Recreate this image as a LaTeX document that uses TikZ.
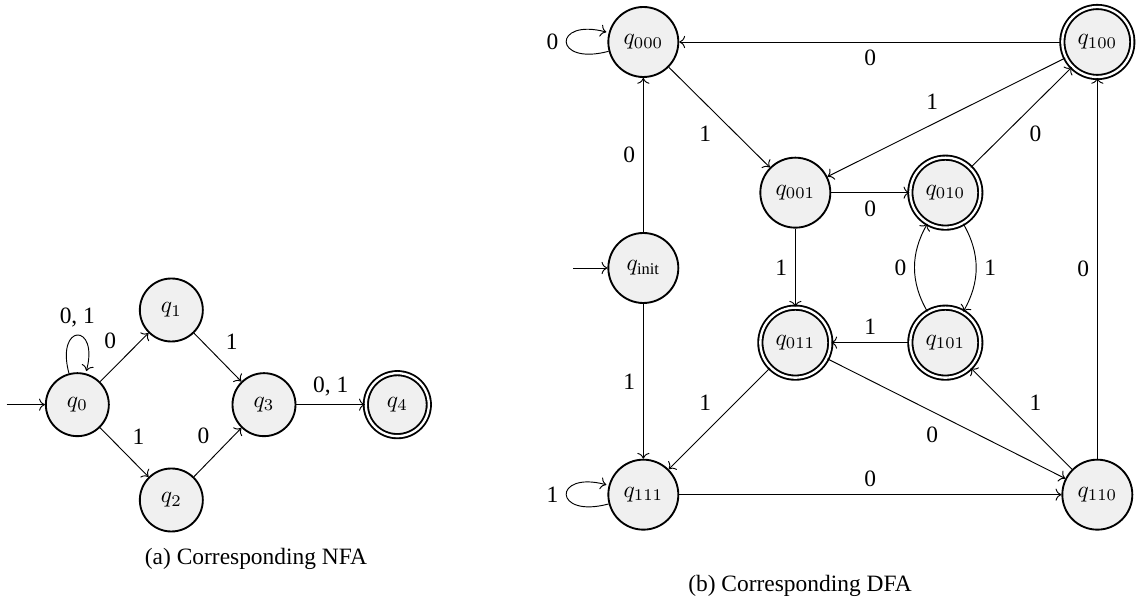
\documentclass[tikz,border=0pt]{standalone}
\usepackage[no-math]{fontspec}
\setmainfont{Liberation Serif}
\usepackage{amsmath}
\usetikzlibrary{positioning, arrows.meta}
\tikzset{every state/.style={circle,draw,thick,fill=black!6,inner sep=1pt},
         nstate/.style={every state,minimum size=9.45mm},
         dstate/.style={every state,minimum size=10.5mm},
         accept/.style={double,double distance=1pt},
        }

\begin{document}
\begin{tikzpicture}
        \useasboundingbox (0,0) rectangle (17.19,9.09);

        % NFA
        \node[nstate](q0)at(1.16,3.02){$q_0$};
        \node[nstate](q1)at(2.57,4.44){$q_1$};
        \node[nstate](q2)at(2.57,1.59){$q_2$};
        \node[nstate](q3)at(3.96,3.02){$q_3$};
        \node[nstate, accept](q4)at(5.96,3.02){$q_4$};
        \coordinate(s0)at(0.1,3.02);

        \draw[->](s0)--(q0);
        \path[->,auto]
            (q0) edge[loop above] node{0, 1} ()
            (q0) edge node{0} (q1)
            (q0) edge node{1} (q2)
            (q1) edge node{1} (q3)
            (q2) edge node{0} (q3)
            (q3) edge node{0, 1} (q4);

        \node[anchor=base](capa)at(3.84,0.615){(a) Corresponding NFA};

        % DFA
        \node[dstate](q000)at(9.65,8.46){$q_{000}$};
        \node[dstate, accept](q100)at(16.46,8.46){$q_{100}$};
        \node[dstate](q001)at(11.93,6.2){$q_{001}$};
        \node[dstate, accept](q010)at(14.18,6.2){$q_{010}$};
        \node[dstate](qi)at(9.65,5.07){$q_{\text{init}}$};
        \node[dstate, accept](q011)at(11.93,3.95){$q_{011}$};
        \node[dstate, accept](q101)at(14.18,3.95){$q_{101}$};
        \node[dstate](q111)at(9.65,1.67){$q_{111}$};
        \node[dstate](q110)at(16.46,1.67){$q_{110}$};
        \coordinate(si)at(8.6,5.07);

        \draw[->](si)--(qi);
        \path[->,auto]
            (q000) edge[loop left] node{0} ()
            (q000) edge node[swap]{1} (q001)
            (q100) edge node{0} (q000)
            (q100) edge node[swap]{1} (q001)
            (q001) edge node[swap]{0} (q010)
            (q010) edge node[swap]{0} (q100)
            (q001) edge node[swap]{1} (q011)
            (qi) edge node{0} (q000)
            (qi) edge node[swap]{1} (q111)
            (q010) edge[bend left] node{1} (q101)
            (q101) edge[bend left] node{0} (q010)
            (q101) edge node[swap]{1} (q011)
            (q011) edge node[swap]{1} (q111)
            (q011) edge node[swap]{0} (q110)
            (q111) edge[loop left] node{1} ()
            (q111) edge node{0} (q110)
            (q110) edge node[swap]{1} (q101)
            (q110) edge node{0} (q100);

        \node[anchor=base](capb)at(12.0,0.21){(b) Corresponding DFA};
    \end{tikzpicture}
\end{document}
